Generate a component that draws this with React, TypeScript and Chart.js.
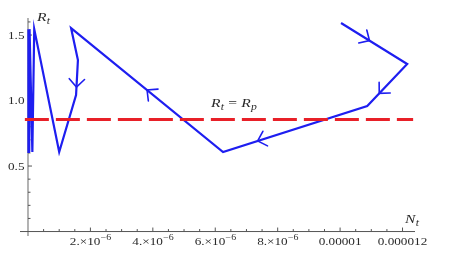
import { useEffect, useRef } from "react";
import { Chart, registerables } from "chart.js";

Chart.register(...registerables);

// Trajectory (N_t, R_t), in drawing order
const trajN = [1.003e-5, 1.215e-5, 1.087e-5, 6.25e-6, 1.38e-6, 1.6e-6, 1.54e-6, 1.0e-6, 2.0e-7, 1.4e-7, 5e-8, 4.5e-8, 3.5e-8, 3e-8, 2e-8, 1.5e-8, 8e-9];
const trajR = [1.592, 1.279, 0.958, 0.607, 1.553, 1.309, 1.042, 0.607, 1.545, 0.607, 1.545, 0.607, 1.545, 0.607, 1.545, 0.607, 1.545];

// Reference line R_t = R_p
const rpN = [-1.0e-7, 1.234e-5];
const rpR = [0.855, 0.855];

// Direction arrows: segment index along trajectory and fraction along it
const arrowSeg = [0, 1, 2, 3, 5];
const arrowT = [0.43, 0.7, 0.76, 0.5, 0.77];

// Axis ticks
const xMajorTicks = [2e-6, 4e-6, 6e-6, 8e-6, 1e-5, 1.2e-5];
const xTickLabels = ["2.×10^−6", "4.×10^−6", "6.×10^−6", "8.×10^−6", "0.00001", "0.000012"];
const xMinorStep = 5e-7;
const yMajorTicks = [0.5, 1.0, 1.5];
const yTickLabels = ["0.5", "1.0", "1.5"];
const yMinorStep = 0.1;

const X_MIN = -2.56e-7;
const X_MAX = 1.24e-5;
const Y_MIN = -0.034;
const Y_MAX = 1.63;

const HS = 1.2;
type Run = { text: string; italic?: boolean; sub?: boolean; sup?: boolean };

function runFont(r: Run, size: number) {
  const s = r.sub || r.sup ? size * 0.75 : size;
  return `${r.italic ? "italic " : ""}${s}px "Liberation Serif", "DejaVu Serif", serif`;
}

function drawRuns(ctx: CanvasRenderingContext2D, runs: Run[], x: number, y: number, size: number, align: string, color: string) {
  ctx.save();
  ctx.fillStyle = color;
  ctx.textBaseline = "alphabetic";
  ctx.textAlign = "left";
  let w = 0;
  for (const r of runs) {
    ctx.font = runFont(r, size);
    w += ctx.measureText(r.text).width * HS;
  }
  let cx = align === "center" ? x - w / 2 : align === "right" ? x - w : x;
  for (const r of runs) {
    ctx.font = runFont(r, size);
    const dy = r.sub ? size * 0.28 : r.sup ? -size * 0.42 : 0;
    ctx.save();
    ctx.translate(cx, y + dy);
    ctx.scale(HS, 1);
    ctx.fillText(r.text, 0, 0);
    ctx.restore();
    cx += ctx.measureText(r.text).width * HS + (r.sup ? 0 : 0.3);
  }
  ctx.restore();
}

function labelRuns(label: string): Run[] {
  const parts = label.split("^");
  const runs: Run[] = [{ text: parts[0] }];
  if (parts[1]) runs.push({ text: parts[1], sup: true });
  return runs;
}

const axesPlugin = {
  id: "mmaAxes",
  beforeDatasetsDraw(chart: any) {
    const ctx: CanvasRenderingContext2D = chart.ctx;
    const xs = chart.scales.x;
    const ys = chart.scales.y;
    const x0 = xs.getPixelForValue(0);
    const y0 = ys.getPixelForValue(0);
    ctx.save();
    // y axis
    ctx.strokeStyle = "#8a8a8a";
    ctx.lineWidth = 1.3;
    ctx.beginPath();
    ctx.moveTo(x0, ys.getPixelForValue(Y_MAX));
    ctx.lineTo(x0, ys.getPixelForValue(Y_MIN));
    ctx.stroke();
    // x axis
    ctx.strokeStyle = "#555";
    ctx.lineWidth = 1;
    ctx.beginPath();
    ctx.moveTo(xs.getPixelForValue(X_MIN), y0);
    ctx.lineTo(xs.getPixelForValue(X_MAX), y0);
    ctx.stroke();
    // x ticks
    ctx.strokeStyle = "#555";
    for (let v = xMinorStep; v <= X_MAX + 1e-12; v += xMinorStep) {
      const px = xs.getPixelForValue(v);
      const major = xMajorTicks.some((m) => Math.abs(m - v) < 1e-9);
      ctx.beginPath();
      ctx.moveTo(px, y0);
      ctx.lineTo(px, y0 - (major ? 4 : 2.5));
      ctx.stroke();
    }
    // y ticks
    for (let v = yMinorStep; v <= Y_MAX + 1e-9; v += yMinorStep) {
      const py = ys.getPixelForValue(v);
      const major = yMajorTicks.some((m) => Math.abs(m - v) < 1e-6);
      ctx.beginPath();
      ctx.moveTo(x0, py);
      ctx.lineTo(x0 + (major ? 4 : 2.5), py);
      ctx.stroke();
    }
    ctx.restore();

    // tick labels
    xMajorTicks.forEach((v, i) => {
      drawRuns(ctx, labelRuns(xTickLabels[i]), xs.getPixelForValue(v), 245, 11, "center", "#2a2a2a");
    });
    yMajorTicks.forEach((v, i) => {
      drawRuns(ctx, [{ text: yTickLabels[i] }], x0 - 3.5, ys.getPixelForValue(v) + 3.5, 11, "right", "#2a2a2a");
    });

    // axis labels & annotation
    drawRuns(ctx, [{ text: "R", italic: true }, { text: "t", italic: true, sub: true }], 37, 20.5, 13, "left", "#2a2a2a");
    drawRuns(ctx, [{ text: "N", italic: true }, { text: "t", italic: true, sub: true }], 405, 222.5, 13, "left", "#2a2a2a");
    drawRuns(
      ctx,
      [
        { text: "R", italic: true },
        { text: "t", italic: true, sub: true },
        { text: " = " },
        { text: "R", italic: true },
        { text: "p", italic: true, sub: true },
      ],
      211,
      106.5,
      13,
      "left",
      "#2a2a2a"
    );
  },
  afterDatasetsDraw(chart: any) {
    const ctx: CanvasRenderingContext2D = chart.ctx;
    const xs = chart.scales.x;
    const ys = chart.scales.y;
    ctx.save();
    ctx.strokeStyle = "rgb(30,30,240)";
    ctx.lineWidth = 1.6;
    ctx.lineCap = "round";
    arrowSeg.forEach((s, i) => {
      const ax = xs.getPixelForValue(trajN[s]);
      const ay = ys.getPixelForValue(trajR[s]);
      const bx = xs.getPixelForValue(trajN[s + 1]);
      const by = ys.getPixelForValue(trajR[s + 1]);
      const t = arrowT[i];
      const px = ax + (bx - ax) * t;
      const py = ay + (by - ay) * t;
      const back = Math.atan2(ay - by, ax - bx);
      const spread = (44 * Math.PI) / 180;
      const len = 11;
      ctx.beginPath();
      ctx.moveTo(px + Math.cos(back + spread) * len, py + Math.sin(back + spread) * len);
      ctx.lineTo(px, py);
      ctx.lineTo(px + Math.cos(back - spread) * len, py + Math.sin(back - spread) * len);
      ctx.stroke();
    });
    ctx.restore();
  },
};

export default function App() {
  const ref = useRef<HTMLCanvasElement | null>(null);
  useEffect(() => {
    document.body.style.margin = "0";
    if (!ref.current) return;
    const chart = new Chart(ref.current, {
      type: "scatter",
      data: {
        datasets: [
          {
            data: rpN.map((x, i) => ({ x, y: rpR[i] })),
            showLine: true,
            borderColor: "rgb(232,32,40)",
            borderWidth: 3,
            borderDash: [24, 7],
            pointRadius: 0,
          },
          {
            data: trajN.map((x, i) => ({ x, y: trajR[i] })),
            showLine: true,
            borderColor: "rgb(30,30,240)",
            borderWidth: 2.2,
            pointRadius: 0,
            tension: 0,
          },
        ],
      },
      options: {
        animation: false,
        responsive: false,
        devicePixelRatio: 1,
        layout: { padding: { left: 20, right: 34, top: 18, bottom: 18 } },
        scales: {
          x: { type: "linear", min: X_MIN, max: X_MAX, display: false },
          y: { type: "linear", min: Y_MIN, max: Y_MAX, display: false },
        },
        plugins: { legend: { display: false }, tooltip: { enabled: false } },
      },
      plugins: [axesPlugin],
    });
    return () => chart.destroy();
  }, []);
  return (
    <div style={{ position: "fixed", left: 0, top: 0, width: 449, height: 254, background: "#fff" }}>
      <canvas ref={ref} width={449} height={254} />
    </div>
  );
}
